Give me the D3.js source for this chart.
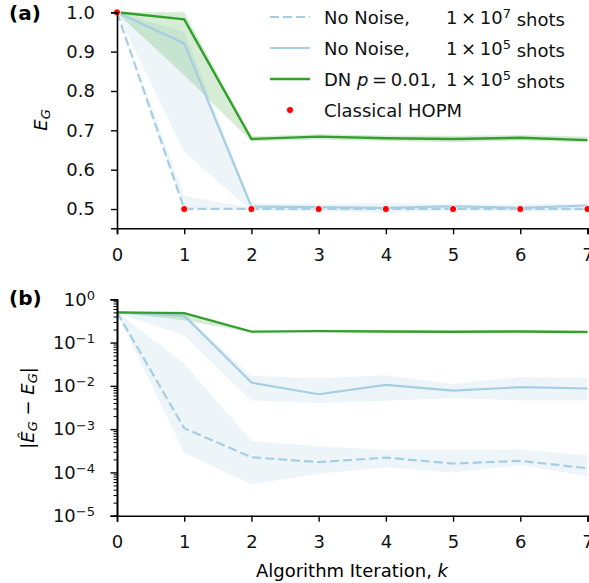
<!DOCTYPE html>
<html>
<head>
<meta charset="utf-8">
<script src="https://cdn.jsdelivr.net/npm/d3@7"></script>
<style>
  body { margin: 0; background: #fff; }
  svg { font-family: "DejaVu Sans", sans-serif; }
</style>
</head>
<body>
<div id="chart"></div>
<script>
// iterations
var iters = [0, 1, 2, 3, 4, 5, 6, 7];

// panel (a): E_G
var hopm = [1.0, 0.5, 0.5, 0.5, 0.5, 0.5, 0.5, 0.5];
var eg1e7 = [1.0, 0.5005, 0.5002, 0.5002, 0.5002, 0.5003, 0.5002, 0.5002];
var eg1e7Lo = [0.998, 0.499, 0.498, 0.499, 0.498, 0.499, 0.498, 0.499];
var eg1e7Hi = [1.0, 0.533, 0.503, 0.502, 0.502, 0.503, 0.502, 0.502];
var eg1e5 = [1.0, 0.921, 0.506, 0.505, 0.503, 0.507, 0.503, 0.509];
var eg1e5Lo = [0.998, 0.645, 0.495, 0.495, 0.49, 0.497, 0.493, 0.495];
var eg1e5Hi = [1.0, 0.95, 0.515, 0.512, 0.515, 0.512, 0.512, 0.514];
var egDN = [1.0, 0.982, 0.678, 0.684, 0.680, 0.678, 0.681, 0.675];
var egDNLo = [0.998, 0.84, 0.672, 0.677, 0.673, 0.670, 0.674, 0.670];
var egDNHi = [1.0, 1.0, 0.685, 0.690, 0.687, 0.686, 0.688, 0.684];

// panel (b): |E_hat - E|
var err1e7 = [0.5, 0.00105, 0.000224, 0.000173, 0.00022, 0.00016, 0.000185, 0.000125];
var err1e7Lo = [0.49, 0.00028, 0.000053, 0.000093, 0.000132, 0.0001, 0.000148, 0.00008];
var err1e7Hi = [0.5, 0.033, 0.00053, 0.0004, 0.00033, 0.00033, 0.00034, 0.00025];
var err1e5 = [0.5, 0.42, 0.0119, 0.0064, 0.0105, 0.0078, 0.0093, 0.0087];
var err1e5Lo = [0.48, 0.145, 0.0046, 0.004, 0.0045, 0.0052, 0.0046, 0.0046];
var err1e5Hi = [0.5, 0.45, 0.017, 0.0149, 0.0175, 0.011, 0.016, 0.015];
var errDN = [0.5, 0.48, 0.179, 0.184, 0.180, 0.178, 0.181, 0.175];
var errDNLo = [0.49, 0.33, 0.172, 0.177, 0.173, 0.170, 0.174, 0.170];
var errDNHi = [0.5, 0.5, 0.185, 0.19, 0.187, 0.186, 0.188, 0.184];

var yTicksA = [0.5, 0.6, 0.7, 0.8, 0.9, 1.0];
var yTicksB = [1, 1e-1, 1e-2, 1e-3, 1e-4, 1e-5];

var width = 589, height = 583;
var blue = "#a6cee3", green = "#33a02c", red = "#ff0000";
var fs = 18, fsSup = 13;

var svg = d3.select("#chart").append("svg")
  .attr("width", width).attr("height", height);
svg.append("rect").attr("width", width).attr("height", height).attr("fill", "#fff");

var x = d3.scaleLinear().domain([0, 7]).range([117, 587.5]);
var yA = d3.scaleLinear().domain([0.451, 1.0]).range([228.3, 12.3]);
var yB = d3.scaleLog().domain([1e-5, 1]).range([515.7, 299.3]);

function band(y, lo, hi) {
  return d3.area().x(function (d, i) { return x(iters[i]); })
    .y0(function (d, i) { return y(lo[i]); })
    .y1(function (d, i) { return y(hi[i]); })(iters);
}
function line(y, vals) {
  return d3.line().x(function (d, i) { return x(iters[i]); })
    .y(function (d, i) { return y(vals[i]); })(iters);
}

function drawPanel(g, y, s) {
  g.append("path").attr("d", band(y, s[0][1], s[0][2])).attr("fill", blue).attr("fill-opacity", 0.2);
  g.append("path").attr("d", band(y, s[1][1], s[1][2])).attr("fill", blue).attr("fill-opacity", 0.2);
  g.append("path").attr("d", band(y, s[2][1], s[2][2])).attr("fill", green).attr("fill-opacity", 0.2);
  g.append("path").attr("d", line(y, s[0][0])).attr("fill", "none").attr("stroke", blue)
    .attr("stroke-width", 2.2).attr("stroke-dasharray", "9,4");
  g.append("path").attr("d", line(y, s[1][0])).attr("fill", "none").attr("stroke", blue).attr("stroke-width", 2.2);
  g.append("path").attr("d", line(y, s[2][0])).attr("fill", "none").attr("stroke", green).attr("stroke-width", 2.4);
}

var gA = svg.append("g");
drawPanel(gA, yA, [[eg1e7, eg1e7Lo, eg1e7Hi], [eg1e5, eg1e5Lo, eg1e5Hi], [egDN, egDNLo, egDNHi]]);
gA.selectAll("circle.hopm").data(hopm).enter().append("circle")
  .attr("class", "hopm")
  .attr("cx", function (d, i) { return x(iters[i]); })
  .attr("cy", function (d) { return yA(d); })
  .attr("r", 3.6).attr("fill", red).attr("stroke", "#fff").attr("stroke-width", 1);

var gB = svg.append("g");
drawPanel(gB, yB, [[err1e7, err1e7Lo, err1e7Hi], [err1e5, err1e5Lo, err1e5Hi], [errDN, errDNLo, errDNHi]]);

function styleAxis(g) {
  g.attr("font-size", fs).attr("font-family", "DejaVu Sans, sans-serif");
  g.select(".domain").attr("stroke", "#000").attr("stroke-width", 1.6);
  g.selectAll(".tick line").attr("stroke", "#000").attr("stroke-width", 1.4);
  g.selectAll(".tick text").attr("fill", "#111").attr("font-size", fs);
}

// axes (a)
var axA = svg.append("g").attr("transform", "translate(0," + 228.3 + ")")
  .call(d3.axisBottom(x).ticks(8).tickSizeOuter(0).tickSize(6).tickPadding(14));
styleAxis(axA);
var ayA = svg.append("g").attr("transform", "translate(117,0)")
  .call(d3.axisLeft(yA).tickValues(yTicksA).tickFormat(d3.format(".1f")).tickSizeOuter(0).tickSize(6).tickPadding(16));
styleAxis(ayA);

// axes (b)
var axB = svg.append("g").attr("transform", "translate(0," + 515.7 + ")")
  .call(d3.axisBottom(x).ticks(8).tickSizeOuter(0).tickSize(6).tickPadding(14));
styleAxis(axB);

var minorB = [];
for (var e = -5; e < 0; e++) {
  for (var m = 2; m <= 9; m++) minorB.push(m * Math.pow(10, e));
}
var ayBminor = svg.append("g").attr("transform", "translate(117,0)")
  .call(d3.axisLeft(yB).tickValues(minorB).tickFormat("").tickSizeOuter(0).tickSize(3.5));
styleAxis(ayBminor);
ayBminor.selectAll(".tick line").attr("stroke-width", 1);
var ayB = svg.append("g").attr("transform", "translate(117,0)")
  .call(d3.axisLeft(yB).tickValues(yTicksB).tickFormat("").tickSizeOuter(0).tickSize(6.5));
styleAxis(ayB);
ayB.selectAll(".tick").each(function (d) {
  var t = d3.select(this).append("text").attr("x", -22).attr("dy", "0.32em")
    .attr("text-anchor", "end").attr("font-size", fs).attr("fill", "#111");
  var ex = Math.round(Math.log10(d));
  t.append("tspan").text("10");
  t.append("tspan").attr("dy", "-0.45em").attr("font-size", fsSup)
    .text(ex < 0 ? "\u2212" + (-ex) : "" + ex);
});

// panel letters
svg.append("text").attr("x", 9).attr("y", 20).attr("font-size", 20).attr("font-weight", "bold").text("(a)");
svg.append("text").attr("x", 9).attr("y", 305).attr("font-size", 20).attr("font-weight", "bold").text("(b)");

// y labels
var ylA = svg.append("text").attr("transform", "translate(47,120) rotate(-90)")
  .attr("text-anchor", "middle").attr("font-size", fs);
ylA.append("tspan").attr("font-style", "italic").text("E");
ylA.append("tspan").attr("font-style", "italic").attr("font-size", fsSup).attr("dy", 3).text("G");

var ylB = svg.append("text").attr("transform", "translate(34,408) rotate(-90)")
  .attr("text-anchor", "middle").attr("font-size", fs);
ylB.append("tspan").text("|");
ylB.append("tspan").attr("font-style", "italic").text("\u00CA");
ylB.append("tspan").attr("font-style", "italic").attr("font-size", fsSup).attr("dy", 3).text("G");
ylB.append("tspan").attr("dy", -3).text(" \u2212 ");
ylB.append("tspan").attr("font-style", "italic").text("E");
ylB.append("tspan").attr("font-style", "italic").attr("font-size", fsSup).attr("dy", 3).text("G");
ylB.append("tspan").attr("dy", -3).text("|");

// x label
var xl = svg.append("text").attr("x", 352).attr("y", 577).attr("text-anchor", "middle").attr("font-size", fs);
xl.append("tspan").text("Algorithm Iteration, ");
xl.append("tspan").attr("font-style", "italic").text("k");

// legend
var legRows = [
  { y: 17, kind: "dash", color: blue, a: "No Noise,", exp: "7" },
  { y: 48, kind: "solid", color: blue, a: "No Noise,", exp: "5" },
  { y: 79, kind: "solid", color: green, a: "DN", exp: "5" },
  { y: 110, kind: "dot", color: red, a: "Classical HOPM", exp: null }
];
var leg = svg.append("g");
legRows.forEach(function (r) {
  if (r.kind === "dot") {
    leg.append("circle").attr("cx", 290).attr("cy", r.y).attr("r", 3.6)
      .attr("fill", red).attr("stroke", "#fff").attr("stroke-width", 1);
  } else {
    leg.append("line").attr("x1", 270).attr("x2", 310).attr("y1", r.y).attr("y2", r.y)
      .attr("stroke", r.color).attr("stroke-width", r.color === green ? 2.4 : 2.2)
      .attr("stroke-dasharray", r.kind === "dash" ? "9,4" : null);
  }
  var t = leg.append("text").attr("x", 324).attr("y", r.y + 6.5).attr("font-size", fs).attr("fill", "#111");
  if (r.a === "DN") {
    t.append("tspan").text("DN ");
    t.append("tspan").attr("font-style", "italic").text("p");
    t.append("tspan").text("\u2009=\u20090.01,");
  } else {
    t.append("tspan").text(r.a);
  }
  if (r.exp) {
    var t2 = leg.append("text").attr("x", 446).attr("y", r.y + 6.5).attr("font-size", fs).attr("fill", "#111");
    t2.append("tspan").text("1\u2009\u00D7\u200910");
    t2.append("tspan").attr("dy", "-0.45em").attr("font-size", fsSup).text(r.exp);
    t2.append("tspan").attr("dy", "0.45em").text(" shots");
  }
});
</script>
</body>
</html>
